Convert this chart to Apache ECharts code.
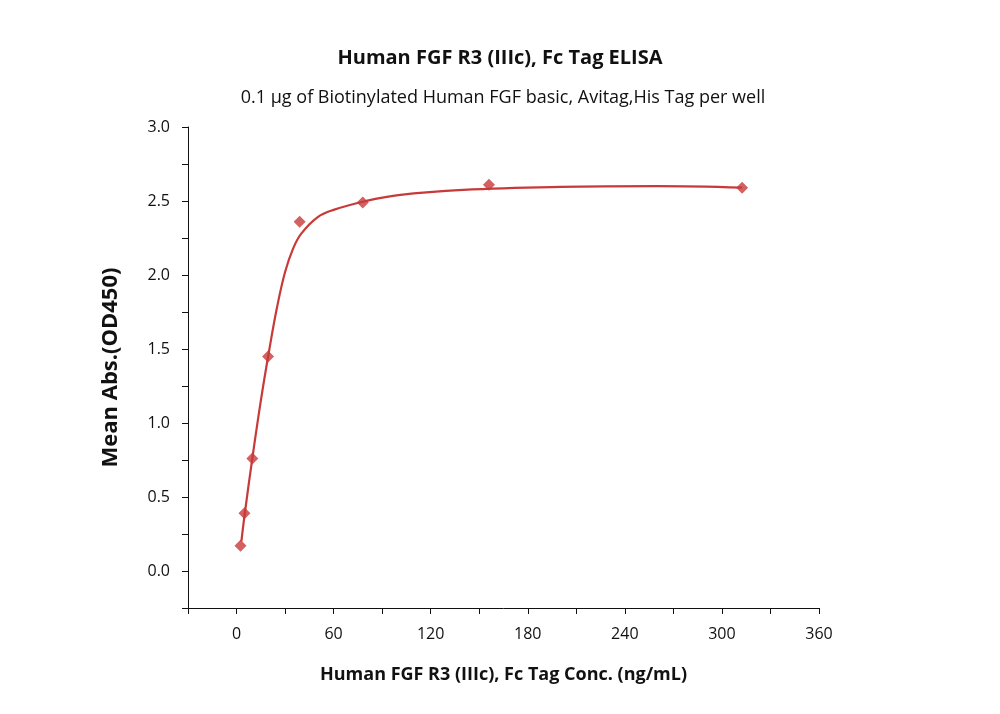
<!DOCTYPE html>
<html><head><meta charset="utf-8">
<script src="https://cdn.jsdelivr.net/npm/echarts@6/dist/echarts.min.js"></script>
<style>html,body{margin:0;padding:0;background:#fff}#c{width:1000px;height:714px}</style>
</head><body><div id="c"></div>
<script>
const concX = [2.44, 4.88, 9.77, 19.5, 39, 78, 156, 312.5];
const meanAbs = [0.17, 0.39, 0.76, 1.45, 2.36, 2.49, 2.61, 2.59];
const fitX = [3, 5, 10, 15, 20, 25, 30, 35, 40, 50, 60, 80, 100, 140, 200, 260, 312.5];
const fitY = [0.2, 0.38, 0.78, 1.15, 1.48, 1.78, 2.02, 2.18, 2.28, 2.39, 2.44, 2.5, 2.54, 2.575, 2.595, 2.6, 2.59];
const xTicks = [0, 60, 120, 180, 240, 300, 360];
const yTicks = [0, 0.5, 1, 1.5, 2, 2.5, 3];
const color = '#c83a3a';
const font = '"Open Sans", sans-serif';
const chart = echarts.init(document.getElementById('c'));
chart.setOption({
  animation: false,
  title: [
    {text: 'Human FGF R3 (IIIc), Fc Tag ELISA', left: 'center', top: 43, textStyle: {fontFamily: font, fontSize: 20, fontWeight: 'bold', color: '#111'}},
    {text: '0.1 μg of Biotinylated Human FGF basic, Avitag,His Tag per well', left: 498, textAlign: 'center', top: 84, textStyle: {fontFamily: font, fontSize: 18, fontWeight: 'normal', color: '#111'}}
  ],
  grid: {left: 188, right: 181, top: 127, bottom: 106},
  xAxis: {
    type: 'value', min: -30, max: 360, interval: 30,
    name: 'Human FGF R3 (IIIc), Fc Tag Conc. (ng/mL)', nameLocation: 'middle', nameGap: 58,
    nameTextStyle: {fontFamily: font, fontSize: 18, fontWeight: 'bold', color: '#111'},
    axisLine: {onZero: false, lineStyle: {color: '#111'}},
    axisTick: {show: true, length: 6, lineStyle: {color: '#111'}},
    splitLine: {show: false},
    axisLabel: {fontFamily: font, fontSize: 16, color: '#111', margin: 18,
      formatter: v => xTicks.includes(v) ? String(v) : ''}
  },
  yAxis: {
    type: 'value', min: -0.25, max: 3.0, interval: 0.25,
    name: 'Mean Abs.(OD450)', nameLocation: 'middle', nameGap: 66,
    nameTextStyle: {fontFamily: font, fontSize: 22, fontWeight: 'bold', color: '#111'},
    axisLine: {show: true, onZero: false, lineStyle: {color: '#111'}},
    axisTick: {show: true, length: 6, lineStyle: {color: '#111'}},
    splitLine: {show: false},
    axisLabel: {fontFamily: font, fontSize: 16, color: '#111', margin: 18,
      formatter: v => yTicks.some(t => Math.abs(t - v) < 1e-6) ? v.toFixed(1) : ''}
  },
  series: [
    {type: 'line', data: fitX.map((x, i) => [x, fitY[i]]), smooth: 0.4, symbol: 'none',
     lineStyle: {color: color, width: 2.2}, z: 2},
    {type: 'scatter', data: concX.map((x, i) => [x, meanAbs[i]]), symbol: 'diamond', symbolSize: 12,
     itemStyle: {color: color}, z: 3}
  ]
});
</script></body></html>
